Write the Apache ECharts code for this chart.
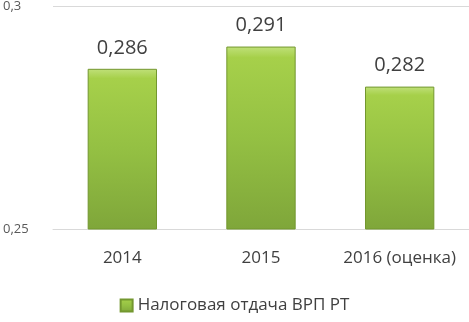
<!DOCTYPE html>
<html><head><meta charset="utf-8">
<script src="https://cdn.jsdelivr.net/npm/echarts@6/dist/echarts.min.js"></script>
<style>html,body{margin:0;padding:0;background:#fff}#c{width:469px;height:322px}</style>
</head><body><div id="c"></div>
<script>
const categories = ['2014', '2015', '2016 (оценка)'];
const values = [0.286, 0.291, 0.282];
const seriesName = 'Налоговая отдача ВРП РТ';
const yMin = 0.25, yMax = 0.3, yStep = 0.05;
const fmt = v => String(+v.toFixed(3)).replace('.', ',');
const font = '"Open Sans", sans-serif';
const chart = echarts.init(document.getElementById('c'), null, {renderer: 'canvas'});
const fill = new echarts.graphic.LinearGradient(0, 0, 0, 1, [
  {offset: 0, color: '#c0e07a'},
  {offset: 0.06, color: '#a6d04a'},
  {offset: 0.5, color: '#94c043'},
  {offset: 1, color: '#7fa63a'}
]);
chart.setOption({
  animation: false,
  textStyle: {fontFamily: font},
  grid: {left: 50, right: 0, top: 5, bottom: 93},
  legend: {
    bottom: 3, left: 'center', itemWidth: 12, itemHeight: 12, itemGap: 6,
    icon: 'rect',
    textStyle: {fontFamily: font, fontSize: 17, color: '#404040'},
    data: [seriesName]
  },
  xAxis: {
    type: 'category', data: categories,
    axisLine: {show: true, lineStyle: {color: '#d9d9d9'}},
    axisTick: {show: false},
    axisLabel: {interval: 0, hideOverlap: false, fontFamily: font, fontSize: 17, color: '#404040', margin: 21}
  },
  yAxis: {
    type: 'value', min: yMin, max: yMax, interval: yStep,
    axisLine: {show: false}, axisTick: {show: false},
    splitLine: {lineStyle: {color: '#d9d9d9'}},
    axisLabel: {fontFamily: font, fontSize: 13, color: '#595959', align: 'left', margin: 50, formatter: v => fmt(v)}
  },
  series: [{
    name: seriesName, type: 'bar', data: values, barWidth: '50%',
    itemStyle: {color: fill, borderColor: '#73972f', borderWidth: 1},
    label: {show: true, position: 'top', distance: 11, fontFamily: font, fontSize: 20, color: '#404040', formatter: p => fmt(p.value)}
  }]
});
</script></body></html>
